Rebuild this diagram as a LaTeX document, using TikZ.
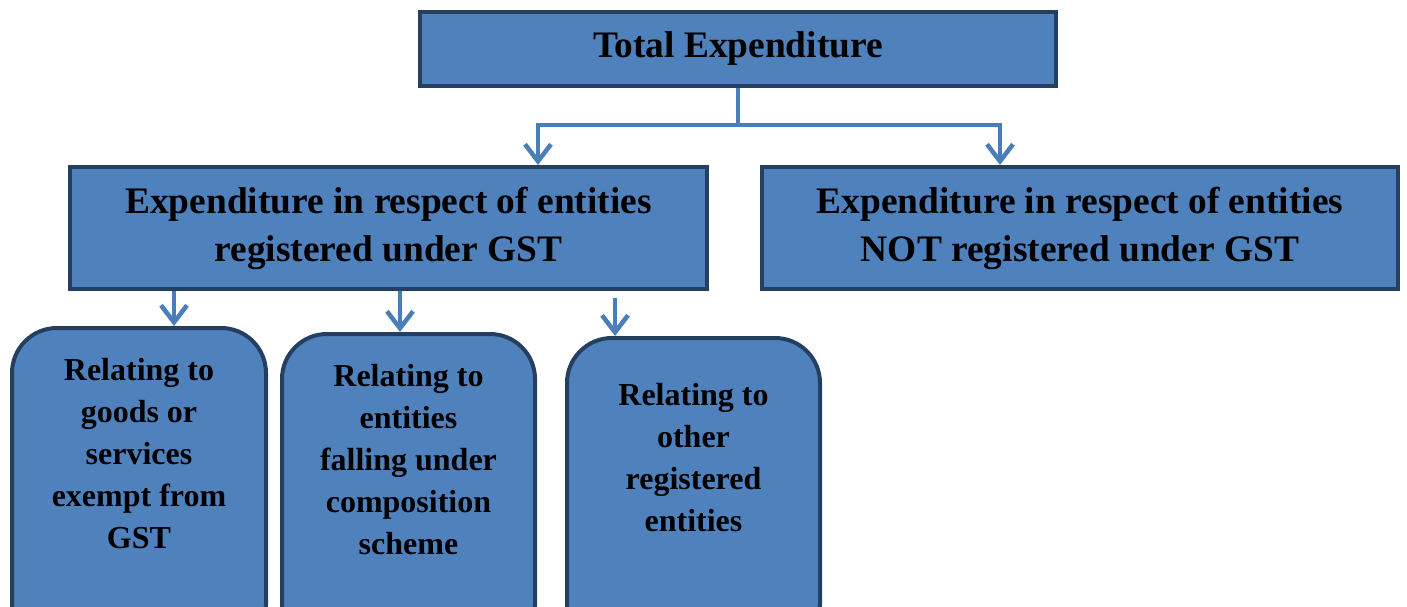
\documentclass[tikz,border=0pt]{standalone}
\usepackage{fontspec}
\setmainfont{Liberation Serif}
\usetikzlibrary{arrows.meta}
\definecolor{boxfill}{HTML}{4F81BD}
\definecolor{boxline}{HTML}{243F60}
\definecolor{arr}{HTML}{4A7EBB}
\begin{document}
\begin{tikzpicture}[x=1pt,y=-1pt,
  sqbox/.style={draw=boxline, fill=boxfill, line width=4pt, inner sep=0pt, align=center,
    font=\bfseries\fontsize{37.4}{48}\selectfont},
  rbox/.style={draw=boxline, fill=boxfill, line width=4pt, rounded corners=45pt, inner sep=0pt},
  btext/.style={font=\bfseries\fontsize{32}{42}\selectfont, align=center, inner sep=0pt},
  conn/.style={draw=arr, line width=4.5pt},
  arrowline/.style={conn, -{Straight Barb[length=17pt,width=26pt]}}]
\useasboundingbox (0,0) rectangle (1407,607);
\clip (0,0) rectangle (1407,607);
% level 1
\node[sqbox, minimum width=636pt, minimum height=74pt] (top) at (738,49) {Total Expenditure};
% level 2
\node[sqbox, minimum width=637pt, minimum height=122pt] (l2) at (388.5,228)
  {Expenditure in respect of entities\\registered under GST};
\node[sqbox, minimum width=636pt, minimum height=122pt] (r2) at (1080,228)
  {Expenditure in respect of entities\\NOT registered under GST};
% level 3 boxes
\node[rbox, minimum width=254pt, minimum height=322pt] (b1) at (139,489) {};
\node[rbox, minimum width=253pt, minimum height=316pt] (b2) at (408.5,492) {};
\node[rbox, minimum width=253pt, minimum height=312pt] (b3) at (693.5,494) {};
\node[btext] (b1t) at (139,454) {Relating to\\goods or\\services\\exempt from\\GST};
\node[btext] (b2t) at (408.5,460) {Relating to\\entities\\falling under\\composition\\scheme};
\node[btext] (b3t) at (693.5,458) {Relating to\\other\\registered\\entities};
% connectors
\coordinate (jl) at (538,125);
\coordinate (jr) at (1000,125);
\draw[arrowline] (top.south) |- (jl) -- (jl |- l2.north);
\draw[arrowline] (top.south) |- (jr) -- (jr |- r2.north);
\draw[arrowline] ([xshift=-214.5pt]l2.south) -- ([xshift=-214.5pt]l2.south |- b1.north);
\draw[arrowline] ([xshift=11.5pt]l2.south) -- ([xshift=11.5pt]l2.south |- b2.north);
\draw[arrowline] ([xshift=226.5pt,yshift=-7pt]l2.south) -- ([xshift=226.5pt]l2.south |- b3.north);
\end{tikzpicture}
\end{document}
